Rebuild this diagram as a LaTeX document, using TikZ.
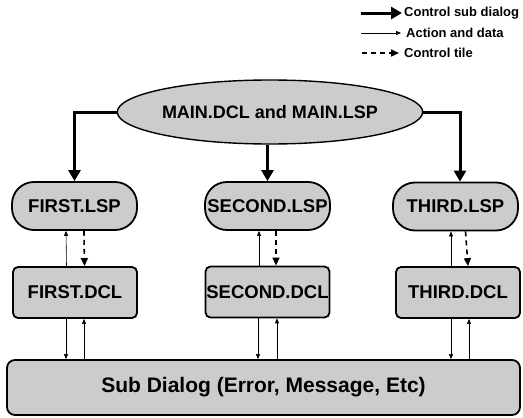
\documentclass[tikz,border=0pt]{standalone}
\usepackage{fontspec}
\setmainfont{Liberation Sans}
\usetikzlibrary{arrows.meta,shapes.geometric}
\definecolor{stip}{gray}{0.80}
\tikzset{
  box/.style={draw=black, line width=1.8pt, fill=stip, inner sep=0pt, font=\fontsize{18.5}{20}\selectfont\bfseries},
  lspbox/.style={box, rounded corners=22pt, minimum width=125pt, minimum height=48pt},
  dclbox/.style={box, rounded corners=5pt, minimum width=124pt, minimum height=51pt},
  subbox/.style={box, rounded corners=8pt, minimum width=513pt, minimum height=55pt, font=\fontsize{21}{23}\selectfont\bfseries},
  mainell/.style={draw=black, line width=1.4pt, fill=stip, ellipse, inner sep=0pt, minimum width=268pt, minimum height=64pt, font=\fontsize{18}{20}\selectfont\bfseries},
  ctrl/.style={line width=3pt, -{Triangle[length=11pt,width=12pt]}},
  act/.style={line width=0.6pt, -{Triangle[length=5pt,width=4pt]}},
  tile/.style={line width=1.6pt, dash pattern=on 5pt off 4pt, -{Triangle[length=8pt,width=7pt]}},
  legtext/.style={anchor=west, inner sep=0pt, font=\fontsize{13}{15}\selectfont\bfseries}
}
\begin{document}
\begin{tikzpicture}[x=1pt,y=-1pt]
\useasboundingbox (0,0) rectangle (523,418);

% legend
\coordinate (l1a) at (361,13);
\coordinate (l1b) at (402,13);
\coordinate (l2a) at (361,33);
\coordinate (l2b) at (401,33);
\coordinate (l3a) at (362,53);
\coordinate (l3b) at (399,53);
\draw[ctrl] (l1a) -- (l1b);
\draw[act] (l2a) -- (l2b);
\draw[tile] (l3a) -- (l3b);
\node[legtext] (t1) at (404,13) {Control sub dialog};
\node[legtext] (t2) at (406,33) {Action and data};
\node[legtext] (t3) at (404,53) {Control tile};

% nodes
\node[mainell] (main) at (270,112) {MAIN.DCL and MAIN.LSP};
\node[lspbox] (flsp) at (74.5,206) {FIRST.LSP};
\node[lspbox] (slsp) at (267.5,206) {SECOND.LSP};
\node[lspbox] (tlsp) at (455.5,206.5) {THIRD.LSP};
\node[dclbox] (fdcl) at (75,292.5) {FIRST.DCL};
\node[dclbox] (sdcl) at (267.5,292) {SECOND.DCL};
\node[dclbox] (tdcl) at (458,292.5) {THIRD.DCL};
\node[subbox] (sub) at (263.5,387.5) {Sub Dialog (Error, Message, Etc)};

% control sub dialog arrows
\draw[ctrl] (main.west) -| (flsp.north);
\draw[ctrl] (slsp.north |- main.south) -- (slsp.north);
\draw[ctrl] (main.east) -| ([xshift=4.5pt]tlsp.north);

% LSP <-> DCL
\draw[act] ([xshift=-8.5pt]fdcl.north) -- ([xshift=-8.5pt]flsp.south);
\draw[tile] ([xshift=9.5pt]flsp.south) -- ([xshift=9.5pt]fdcl.north);
\draw[act] ([xshift=-8.5pt]sdcl.north) -- ([xshift=-8.5pt]slsp.south);
\draw[tile] ([xshift=8.5pt]slsp.south) -- ([xshift=8.5pt]sdcl.north);
\draw[act] ([xshift=-7pt]tdcl.north) -- ([xshift=-4.5pt]tlsp.south);
\draw[tile] ([xshift=10pt]tlsp.south) -- ([xshift=10pt]tdcl.north);

% DCL <-> Sub
\draw[act] ([xshift=-9pt]fdcl.south) -- ([xshift=-9pt]fdcl.south |- sub.north);
\draw[act] ([xshift=9pt]fdcl.south |- sub.north) -- ([xshift=9pt]fdcl.south);
\draw[act] ([xshift=-9.5pt]sdcl.south) -- ([xshift=-9.5pt]sdcl.south |- sub.north);
\draw[act] ([xshift=9.5pt]sdcl.south |- sub.north) -- ([xshift=9.5pt]sdcl.south);
\draw[act] ([xshift=-7pt]tdcl.south) -- ([xshift=-7pt]tdcl.south |- sub.north);
\draw[act] ([xshift=11pt]tdcl.south |- sub.north) -- ([xshift=11pt]tdcl.south);
\end{tikzpicture}
\end{document}
